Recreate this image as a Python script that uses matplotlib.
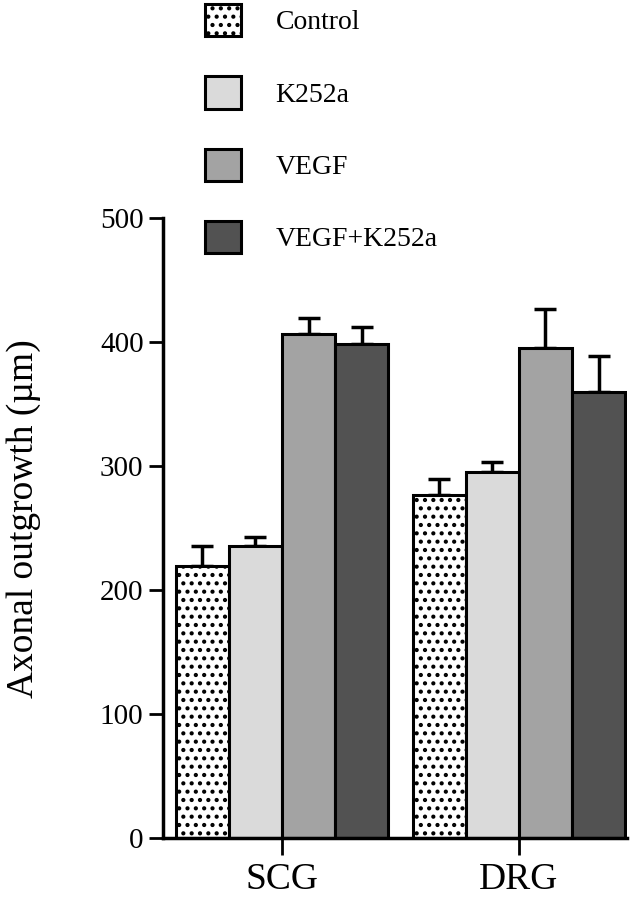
import matplotlib.pyplot as plt
import numpy as np

plt.rcParams['font.family'] = ['Liberation Serif', 'DejaVu Serif']
plt.rcParams['hatch.linewidth'] = 1.8

groups = ['SCG', 'DRG']
treatments = ['Control', 'K252a', 'VEGF', 'VEGF+K252a']
values = {
    'Control': [219, 277],
    'K252a': [235.5, 295.5],
    'VEGF': [406.5, 395],
    'VEGF+K252a': [398, 359.5],
}
errors = {
    'Control': [16.5, 12.5],
    'K252a': [7.5, 7.5],
    'VEGF': [12.5, 31.5],
    'VEGF+K252a': [14, 29],
}
colors = ['white', '#dadada', '#a3a3a3', '#525252']
hatches = ['..', None, None, None]

fig = plt.figure(figsize=(6.44, 9.0), dpi=100)
ax = fig.add_axes([0.2531, 0.0689, 0.7205, 0.6889])

x = np.arange(len(groups))
w = 0.224
for i, t in enumerate(treatments):
    pos = x + (i - 1.5) * w
    ax.bar(pos, values[t], width=w, color=colors[i], edgecolor='black',
           linewidth=2.2, hatch=hatches[i], label=t, zorder=2)
    ax.errorbar(pos, values[t], yerr=[np.zeros(len(groups)), errors[t]],
                fmt='none', ecolor='black', elinewidth=2.5, capsize=8,
                capthick=2.5, zorder=1)

ax.set_xlim(-0.502, 1.456)
ax.set_ylim(0, 500)
ax.set_yticks([0, 100, 200, 300, 400, 500])
ax.set_xticks(x)
ax.set_xticklabels(groups, fontsize=27)
ax.tick_params(axis='y', labelsize=21, width=2, length=10, pad=4)
ax.tick_params(axis='x', width=2, length=12, pad=6)
for s in ['top', 'right']:
    ax.spines[s].set_visible(False)
for s in ['left', 'bottom']:
    ax.spines[s].set_linewidth(2.5)
ax.set_ylabel('Axonal outgrowth (µm)', fontsize=27)
ax.yaxis.set_label_coords(-0.262, 0.515)

ax.legend(loc='upper left', bbox_to_anchor=(0.292, 1.014), bbox_transform=fig.transFigure,
          frameon=False, fontsize=20, handlelength=1.3, handleheight=1.4,
          labelspacing=1.45, handletextpad=1.25, borderaxespad=0.2)

plt.savefig('out.png', dpi=100)
